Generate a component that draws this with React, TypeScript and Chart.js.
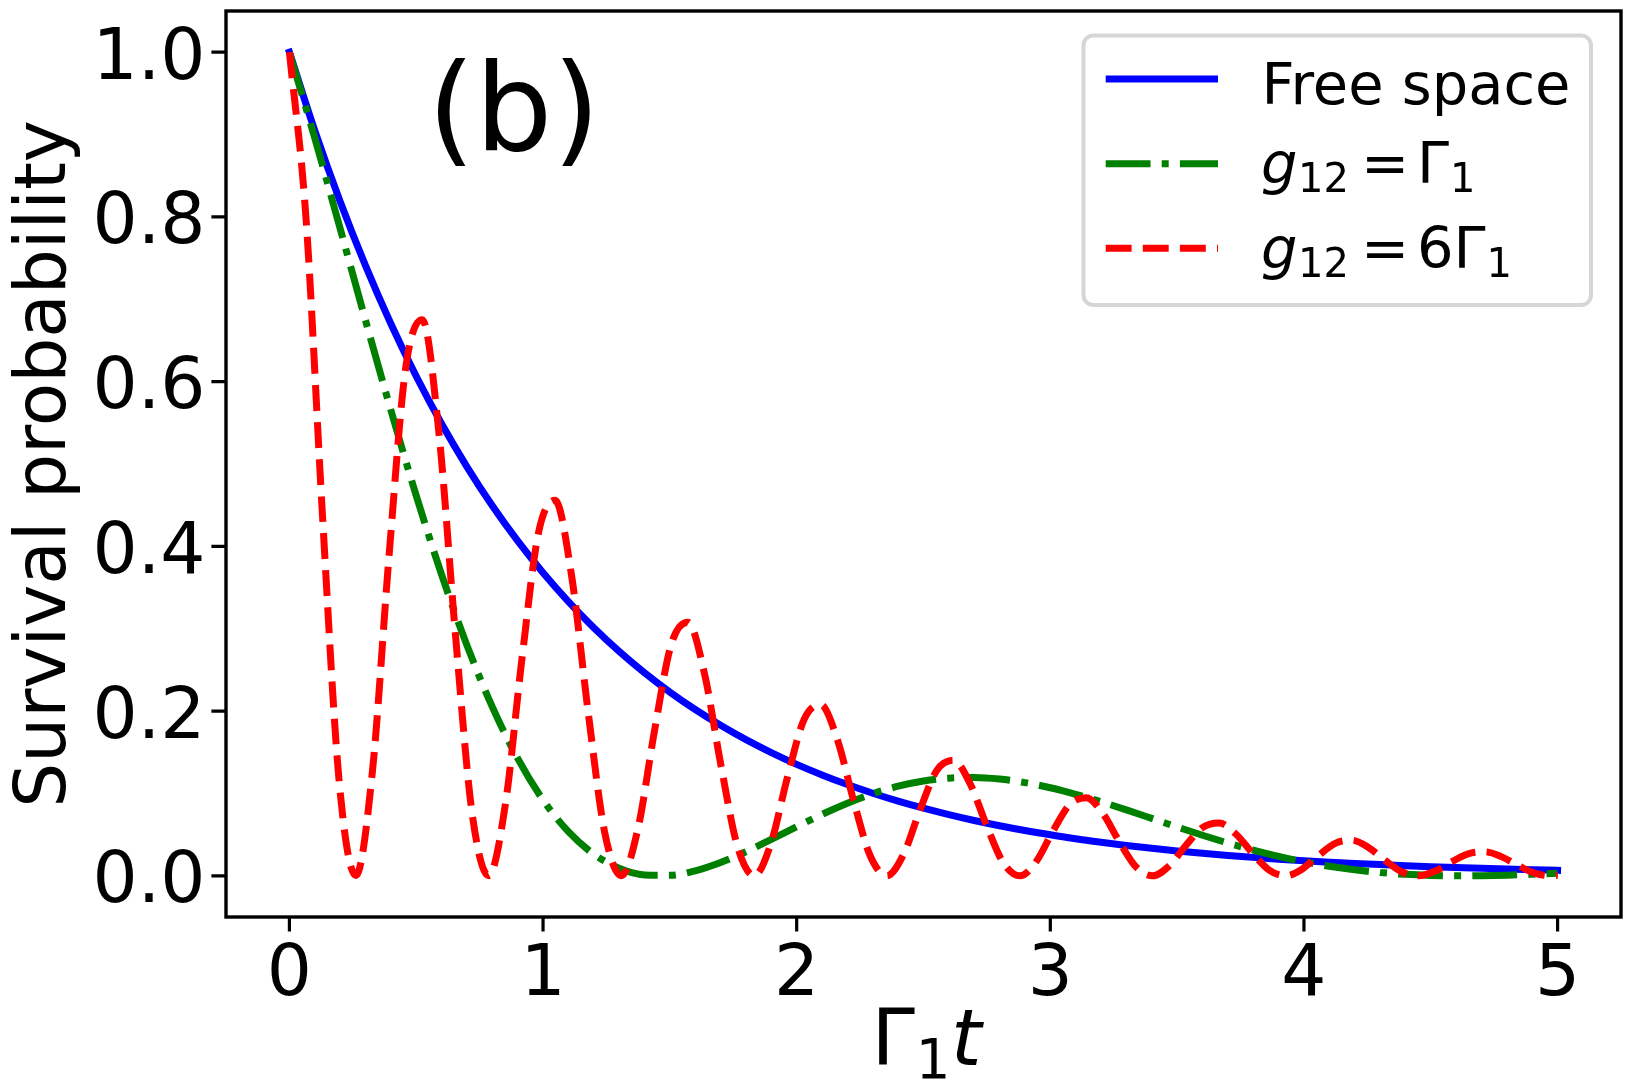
import { useEffect, useRef } from "react";
import { Chart, registerables } from "chart.js";

Chart.register(...registerables);

const FONT = "'DejaVu Sans', 'Noto Sans', sans-serif";

// Time axis (Γ1 t) for the smooth curves
const timeCoarse = [
  0, 0.1, 0.2, 0.3, 0.4, 0.5, 0.6, 0.7, 0.8, 0.9,
  1.0, 1.1, 1.2, 1.3, 1.4, 1.5, 1.6, 1.7, 1.8, 1.9,
  2.0, 2.1, 2.2, 2.3, 2.4, 2.5, 2.6, 2.7, 2.8, 2.9,
  3.0, 3.1, 3.2, 3.3, 3.4, 3.5, 3.6, 3.7, 3.8, 3.9,
  4.0, 4.1, 4.2, 4.3, 4.4, 4.5, 4.6, 4.7, 4.8, 4.9, 5.0,
];

// Free-space decay
const freeSpace = [
  1.0, 0.9048, 0.8187, 0.7408, 0.6703, 0.6065, 0.5488, 0.4966, 0.4493, 0.4066,
  0.3679, 0.3329, 0.3012, 0.2725, 0.2466, 0.2231, 0.2019, 0.1827, 0.1653, 0.1496,
  0.1353, 0.1225, 0.1108, 0.1003, 0.0907, 0.0821, 0.0743, 0.0672, 0.0608, 0.0550,
  0.0498, 0.0450, 0.0408, 0.0369, 0.0334, 0.0302, 0.0273, 0.0247, 0.0224, 0.0202,
  0.0183, 0.0166, 0.0150, 0.0136, 0.0123, 0.0111, 0.0101, 0.0091, 0.0082, 0.0074, 0.0067,
];

// g12 = Γ1
const weakCoupling = [
  1.0, 0.8957, 0.7859, 0.6745, 0.5654, 0.4616, 0.3658, 0.2798, 0.2052, 0.1425,
  0.0921, 0.0536, 0.0263, 0.0092, 0.0011, 0.0006, 0.0061, 0.0162, 0.0293, 0.0442,
  0.0596, 0.0746, 0.0881, 0.0997, 0.1088, 0.1151, 0.1186, 0.1194, 0.1175, 0.1132,
  0.1069, 0.0990, 0.0899, 0.0800, 0.0697, 0.0593, 0.0493, 0.0399, 0.0313, 0.0236,
  0.0170, 0.0116, 0.0073, 0.0040, 0.0018, 0.0005, 0.0, 0.0002, 0.0008, 0.0019, 0.0032,
];

// Time axis for the fast oscillation, denser sampling
const timeFine = [
  0, 0.0654, 0.1309, 0.1963, 0.2618, 0.3272, 0.3927, 0.4581,
  0.5236, 0.589, 0.6545, 0.7199, 0.7854, 0.8508, 0.9163, 0.9817,
  1.0472, 1.1126, 1.1781, 1.2435, 1.309, 1.3744, 1.4399, 1.5053,
  1.5708, 1.6362, 1.7017, 1.7671, 1.8326, 1.898, 1.9635, 2.0289,
  2.0944, 2.1598, 2.2253, 2.2907, 2.3562, 2.4216, 2.4871, 2.5525,
  2.618, 2.6834, 2.7489, 2.8143, 2.8798, 2.9452, 3.0107, 3.0761,
  3.1416, 3.207, 3.2725, 3.3379, 3.4034, 3.4688, 3.5343, 3.5997,
  3.6652, 3.7306, 3.7961, 3.8615, 3.927, 3.9924, 4.0579, 4.1233,
  4.1888, 4.2542, 4.3197, 4.3851, 4.4506, 4.516, 4.5815, 4.6469,
  4.7124, 4.7778, 4.8433, 4.9087, 4.9742, 5.0,
];

// g12 = 6Γ1
const strongCoupling = [
  1.0, 0.7987, 0.4346, 0.114, 0.0004, 0.1264, 0.3881, 0.6159,
  0.6752, 0.5393, 0.2934, 0.077, 0.0002, 0.0853, 0.2621, 0.4159,
  0.4559, 0.3642, 0.1981, 0.052, 0.0002, 0.0576, 0.1769, 0.2808,
  0.3079, 0.2459, 0.1338, 0.0351, 0.0001, 0.0389, 0.1195, 0.1896,
  0.2079, 0.166, 0.0903, 0.0237, 0.0001, 0.0263, 0.0807, 0.128,
  0.1404, 0.1121, 0.061, 0.016, 0.0, 0.0177, 0.0545, 0.0864,
  0.0948, 0.0757, 0.0412, 0.0108, 0.0, 0.012, 0.0368, 0.0584,
  0.064, 0.0511, 0.0278, 0.0073, 0.0, 0.0081, 0.0248, 0.0394,
  0.0432, 0.0345, 0.0188, 0.0049, 0.0, 0.0055, 0.0168, 0.0266,
  0.0292, 0.0233, 0.0127, 0.0033, 0.0, 0.0007,
];

const xTicks = [0, 1, 2, 3, 4, 5];
const xTickLabels = ["0", "1", "2", "3", "4", "5"];
const yTicks = [0, 0.2, 0.4, 0.6, 0.8, 1.0];
const yTickLabels = ["0.0", "0.2", "0.4", "0.6", "0.8", "1.0"];

const BLUE = "#0000ff";
const GREEN = "#008000";
const RED = "#ff0000";
const DASH_DOT = [44.8, 11.2, 7, 11.2];
const DASHED = [25.9, 11.2];

const pairs = (xs: number[], ys: number[]) => xs.map((x, i) => ({ x, y: ys[i] }));

// Frame, ticks, axis titles, panel tag and legend
const decorations = {
  id: "decorations",
  afterDatasetsDraw(chart: any) {
    const { ctx, chartArea: a, scales } = chart;
    const xs = scales.x;
    const ys = scales.y;
    ctx.save();

    // axes frame
    ctx.strokeStyle = "#000";
    ctx.lineWidth = 3.4;
    ctx.lineJoin = "miter";
    ctx.setLineDash([]);
    ctx.strokeRect(a.left, a.top, a.right - a.left, a.bottom - a.top);

    // tick marks
    const tickLen = 14.6;
    ctx.lineWidth = 3.2;
    ctx.lineCap = "butt";
    ctx.beginPath();
    xTicks.forEach((v) => {
      const px = xs.getPixelForValue(v);
      ctx.moveTo(px, a.bottom);
      ctx.lineTo(px, a.bottom + tickLen);
    });
    yTicks.forEach((v) => {
      const py = ys.getPixelForValue(v);
      ctx.moveTo(a.left, py);
      ctx.lineTo(a.left - tickLen, py);
    });
    ctx.stroke();

    // tick labels
    ctx.fillStyle = "#000";
    ctx.font = `71px ${FONT}`;
    ctx.textBaseline = "alphabetic";
    ctx.textAlign = "center";
    xTicks.forEach((v, i) => {
      ctx.fillText(xTickLabels[i], xs.getPixelForValue(v), a.bottom + 77.5);
    });
    ctx.textAlign = "right";
    yTicks.forEach((v, i) => {
      ctx.fillText(yTickLabels[i], a.left - 20.5, ys.getPixelForValue(v) + 26.5);
    });

    // y axis title
    ctx.save();
    ctx.translate(65, (a.top + a.bottom) / 2);
    ctx.rotate(-Math.PI / 2);
    ctx.textAlign = "center";
    ctx.font = `71px ${FONT}`;
    ctx.fillText("Survival probability", 0, 0);
    ctx.restore();

    // x axis title: Γ₁t
    ctx.textAlign = "left";
    let cx = 871.4;
    const xBase = 1065;
    ctx.font = `78px ${FONT}`;
    ctx.fillText("Γ", cx, xBase);
    cx += ctx.measureText("Γ").width + 0.8;
    ctx.font = `54.6px ${FONT}`;
    ctx.fillText("1", cx, xBase + 13);
    cx += ctx.measureText("1").width + 0.6;
    ctx.font = `italic 78px ${FONT}`;
    ctx.fillText("t", cx, xBase);

    // panel tag
    ctx.font = `122px ${FONT}`;
    ctx.fillText("(b)", 427.5, 150);

    // legend box
    const lx = 1083.5, ly = 35.5, lw = 1591 - 1083.5, lh = 305 - 35.5, r = 10;
    ctx.beginPath();
    ctx.moveTo(lx + r, ly);
    ctx.lineTo(lx + lw - r, ly);
    ctx.arcTo(lx + lw, ly, lx + lw, ly + r, r);
    ctx.lineTo(lx + lw, ly + lh - r);
    ctx.arcTo(lx + lw, ly + lh, lx + lw - r, ly + lh, r);
    ctx.lineTo(lx + r, ly + lh);
    ctx.arcTo(lx, ly + lh, lx, ly + lh - r, r);
    ctx.lineTo(lx, ly + r);
    ctx.arcTo(lx, ly, lx + r, ly, r);
    ctx.closePath();
    ctx.fillStyle = "rgba(255,255,255,0.8)";
    ctx.fill();
    ctx.strokeStyle = "#d6d6d6";
    ctx.lineWidth = 4;
    ctx.stroke();

    // legend handles
    const hx0 = 1105.7, hx1 = 1218;
    const rows = [79, 163.7, 248.3];
    ctx.lineWidth = 7;
    ctx.lineCap = "butt";
    const handle = (y: number, color: string, dash: number[]) => {
      ctx.strokeStyle = color;
      ctx.setLineDash(dash);
      ctx.beginPath();
      ctx.moveTo(hx0, y);
      ctx.lineTo(hx1, y);
      ctx.stroke();
    };
    handle(rows[0], BLUE, []);
    handle(rows[1], GREEN, DASH_DOT);
    handle(rows[2], RED, DASHED);
    ctx.setLineDash([]);

    // legend labels
    ctx.fillStyle = "#000";
    ctx.textAlign = "left";
    ctx.font = `57.5px ${FONT}`;
    ctx.fillText("Free space", 1261.5, 103.5);

    const mathRow = (base: number, coef: string) => {
      ctx.font = `italic 57.5px ${FONT}`;
      ctx.fillText("g", 1261, base);
      ctx.font = `40px ${FONT}`;
      ctx.fillText("12", 1298, base + 9);
      ctx.font = `57.5px ${FONT}`;
      ctx.fillText("=", 1361, base);
      let gx = 1417;
      if (coef) {
        ctx.fillText(coef, gx, base);
        gx += ctx.measureText(coef).width;
      }
      ctx.fillText("Γ", gx, base);
      gx += ctx.measureText("Γ").width + 1;
      ctx.font = `40px ${FONT}`;
      ctx.fillText("1", gx, base + 9);
    };
    mathRow(183, "");
    mathRow(268, "6");

    ctx.restore();
  },
};

export default function App() {
  const canvasRef = useRef<HTMLCanvasElement>(null);

  useEffect(() => {
    const canvas = canvasRef.current;
    if (!canvas) return;
    const chart = new Chart(canvas, {
      type: "line",
      data: {
        datasets: [
          {
            label: "Free space",
            data: pairs(timeCoarse, freeSpace),
            borderColor: BLUE,
            borderWidth: 7,
            cubicInterpolationMode: "monotone",
            borderJoinStyle: "round",
            borderCapStyle: "square",
            pointRadius: 0,
            fill: false,
            order: 3,
          },
          {
            label: "g12 = Γ1",
            data: pairs(timeCoarse, weakCoupling),
            borderColor: GREEN,
            borderWidth: 7,
            borderDash: DASH_DOT,
            cubicInterpolationMode: "monotone",
            borderJoinStyle: "round",
            borderCapStyle: "butt",
            pointRadius: 0,
            fill: false,
            order: 2,
          },
          {
            label: "g12 = 6Γ1",
            data: pairs(timeFine, strongCoupling),
            borderColor: RED,
            borderWidth: 7,
            borderDash: DASHED,
            cubicInterpolationMode: "monotone",
            borderJoinStyle: "round",
            borderCapStyle: "butt",
            pointRadius: 0,
            fill: false,
            order: 1,
          },
        ],
      },
      options: {
        responsive: false,
        maintainAspectRatio: false,
        devicePixelRatio: 1,
        animation: false,
        events: [],
        layout: { padding: { left: 226, top: 11, right: 6, bottom: 169 } },
        plugins: { legend: { display: false }, tooltip: { enabled: false } },
        scales: {
          x: { type: "linear", min: -0.25, max: 5.25, display: false },
          y: { type: "linear", min: -0.05, max: 1.05, display: false },
        },
      },
      plugins: [decorations],
    });
    return () => chart.destroy();
  }, []);

  return (
    <div
      style={{
        position: "fixed",
        left: 0,
        top: 0,
        width: 1627,
        height: 1086,
        background: "#fff",
      }}
    >
      <canvas
        ref={canvasRef}
        width={1627}
        height={1086}
        style={{ display: "block", width: 1627, height: 1086 }}
      />
    </div>
  );
}
